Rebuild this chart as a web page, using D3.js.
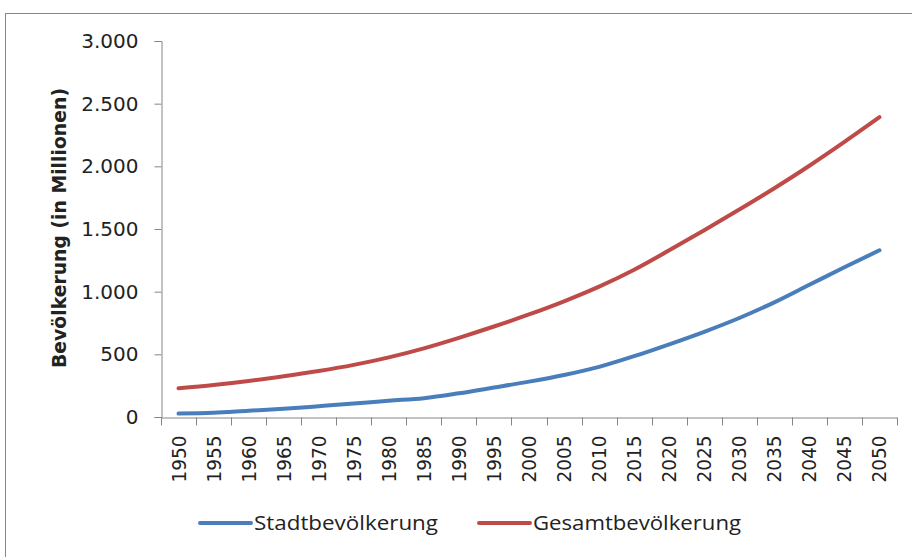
<!DOCTYPE html>
<html>
<head>
<meta charset="utf-8">
<script src="https://cdn.jsdelivr.net/npm/d3@7"></script>
<style>
  body { margin: 0; background: #fff; }
  svg { display: block; }
  text { font-family: "DejaVu Sans", sans-serif; fill: #222; }
</style>
</head>
<body>
<svg id="chart" width="912" height="557"></svg>
<script>
// Jahre (Kategorien)
var years = [1950, 1955, 1960, 1965, 1970, 1975, 1980, 1985, 1990, 1995, 2000,
             2005, 2010, 2015, 2020, 2025, 2030, 2035, 2040, 2045, 2050];

// Bevölkerung in Millionen
var stadt = [27, 33, 50, 66, 86, 107, 130, 150, 189, 235, 282,
             335, 400, 485, 580, 680, 790, 915, 1055, 1195, 1330];
var gesamt = [229, 255, 287, 325, 367, 416, 476, 548, 632, 722, 818,
              923, 1040, 1175, 1330, 1490, 1655, 1825, 2005, 2195, 2392];

var yTicks = [0, 500, 1000, 1500, 2000, 2500, 3000];

var seriesNames = ["Stadtbevölkerung", "Gesamtbevölkerung"];
var seriesColors = ["#4a7ebb", "#be4b48"];

var svg = d3.select("#chart");
var axisColor = "#868686";

// Rahmen
svg.append("rect")
  .attr("x", 5.5).attr("y", 13.5)
  .attr("width", 920).attr("height", 560)
  .attr("fill", "none")
  .attr("stroke", axisColor)
  .attr("stroke-width", 1);

var plotLeft = 161, plotRight = 897, plotTop = 41, plotBottom = 417;

var x = d3.scaleBand().domain(years).range([plotLeft, plotRight]);
var y = d3.scaleLinear().domain([0, 3000]).range([plotBottom, plotTop]);

var fmt = function(v) { return d3.format(",")(v).replace(/,/g, "."); };

// y-Achse
var yAxis = svg.append("g")
  .attr("transform", "translate(" + (plotLeft + 0.5) + ",0)")
  .call(d3.axisLeft(y).tickValues(yTicks).tickSize(7).tickPadding(16).tickFormat(fmt));
yAxis.selectAll("text").style("font-size", "20px").attr("fill", "#222");

// x-Achse
var xAxis = svg.append("g")
  .attr("transform", "translate(0," + (plotBottom + 0.5) + ")")
  .call(d3.axisBottom(x).tickSize(0).tickSizeOuter(0));
xAxis.selectAll(".tick line").remove();
xAxis.selectAll("text")
  .style("font-size", "20px")
  .attr("fill", "#222")
  .attr("transform", "rotate(-90)")
  .attr("text-anchor", "end")
  .attr("x", -18)
  .attr("y", 0)
  .attr("dy", "0.35em")
  .attr("textLength", 47)
  .attr("lengthAdjust", "spacingAndGlyphs");

// Teilstriche zwischen den Kategorien
var bounds = years.map(function(d) { return x(d); }).concat([plotRight]);
xAxis.selectAll(".cat-tick").data(bounds).enter()
  .append("line")
  .attr("class", "cat-tick")
  .attr("x1", function(d) { return Math.round(d) + 0.5; })
  .attr("x2", function(d) { return Math.round(d) + 0.5; })
  .attr("y1", 0).attr("y2", 8);

svg.selectAll(".domain, .tick line, .cat-tick")
  .attr("stroke", axisColor)
  .attr("stroke-width", 1);

// y-Achsentitel
svg.append("text")
  .attr("transform", "translate(59,228) rotate(-90)")
  .attr("text-anchor", "middle")
  .attr("dy", "0.35em")
  .style("font-size", "19px")
  .style("font-weight", "bold")
  .attr("fill", "#000")
  .attr("textLength", 280)
  .attr("lengthAdjust", "spacingAndGlyphs")
  .text("Bevölkerung (in Millionen)");

// Linien
var line = d3.line()
  .x(function(d, i) { return x(years[i]) + x.bandwidth() / 2; })
  .y(function(d) { return y(d); })
  .curve(d3.curveMonotoneX);

[stadt, gesamt].forEach(function(values, i) {
  svg.append("path")
    .datum(values)
    .attr("fill", "none")
    .attr("stroke", seriesColors[i])
    .attr("stroke-width", 4)
    .attr("stroke-linecap", "round")
    .attr("d", line);
});

// Legende
var legendPos = [200, 479];
var legend = svg.append("g").attr("transform", "translate(0,523)");
seriesNames.forEach(function(name, i) {
  var g = legend.append("g").attr("transform", "translate(" + legendPos[i] + ",0)");
  g.append("line")
    .attr("x1", 0).attr("x2", 51)
    .attr("y1", 0).attr("y2", 0)
    .attr("stroke", seriesColors[i])
    .attr("stroke-width", 4)
    .attr("stroke-linecap", "round");
  g.append("text")
    .attr("x", 54).attr("dy", "0.35em")
    .style("font-size", "20px")
    .style("font-family", "'Open Sans', sans-serif")
    .attr("fill", "#111")
    .attr("textLength", i === 0 ? 184 : 208)
    .attr("lengthAdjust", "spacingAndGlyphs")
    .text(name);
});
</script>
</body>
</html>
